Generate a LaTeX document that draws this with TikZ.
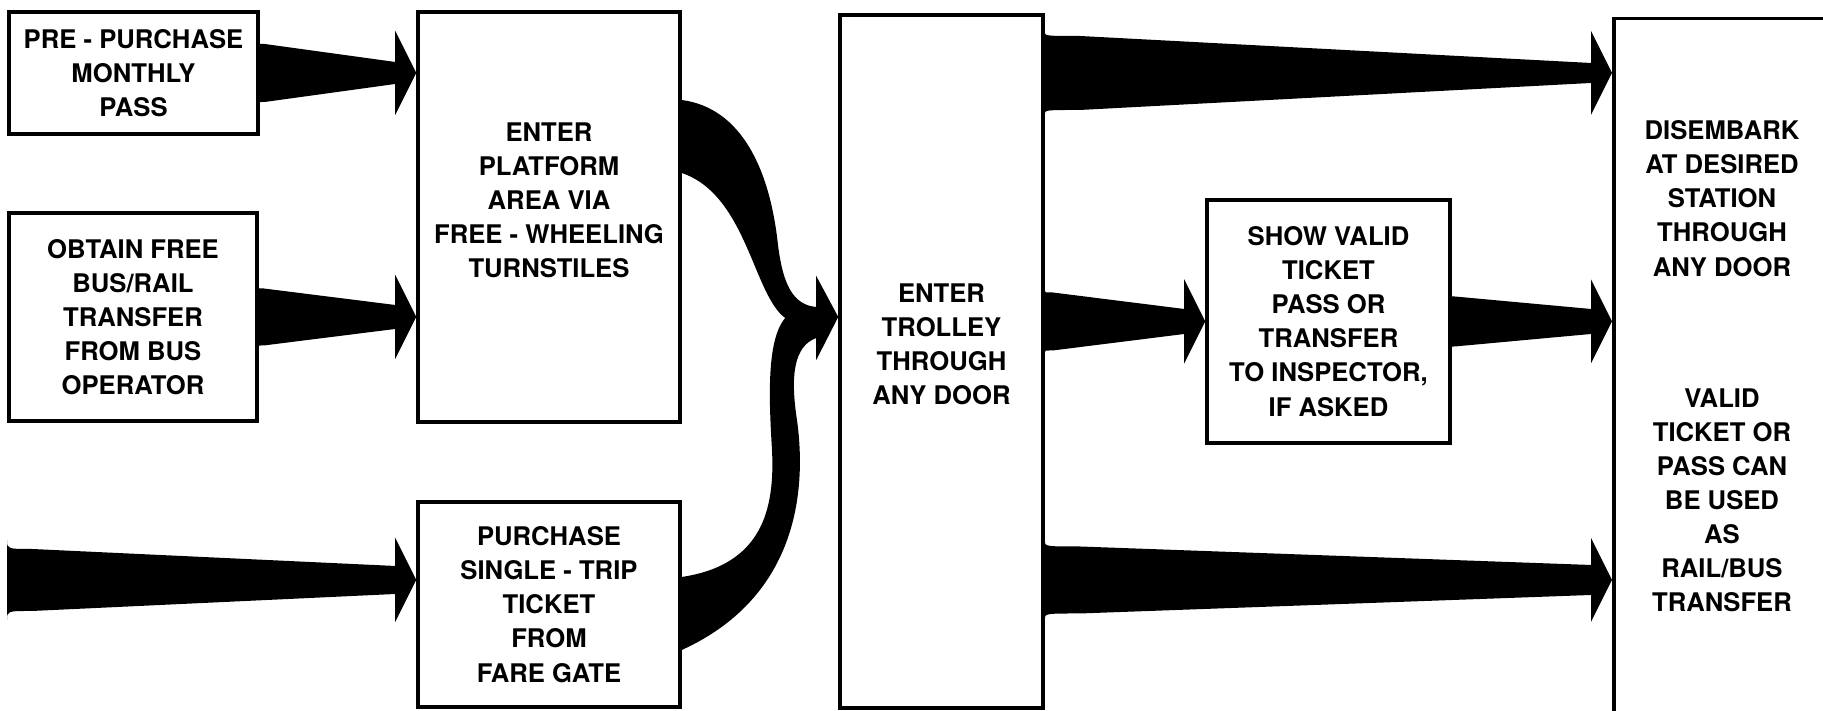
\documentclass[tikz,border=0pt]{standalone}
\usepackage{fontspec}
\setmainfont{TeX Gyre Heros}
\usetikzlibrary{calc}

\newcommand{\fatarrow}[6]{%
  \fill ($(#1)+(0,#3)$) .. controls ($(#1)+(0,#4)$) .. ($(#1)+(#5,#4)$)
    -- ($(#2)+(-0.21,#6)$) -- ($(#2)+(-0.21,0.42)$) -- (#2)
    -- ($(#2)+(-0.21,-0.42)$) -- ($(#2)+(-0.21,-#6)$)
    -- ($(#1)+(#5,-#4)$) .. controls ($(#1)+(0,-#4)$) .. ($(#1)+(0,-#3)$) -- cycle;}

\begin{document}
\begin{tikzpicture}
[box/.style={rectangle,draw,line width=1pt,align=center,font=\bfseries\fontsize{7.3}{9.7}\selectfont},
 words/.style={align=center,font=\bfseries\fontsize{7.3}{9.7}\selectfont}]

\path[use as bounding box,clip] (0,0) rectangle (18.23,7.11);

\node[box,minimum width=2.49cm,minimum height=1.22cm] (pass) at (1.335,6.38) {PRE - PURCHASE\\MONTHLY\\PASS};
\node[box,minimum width=2.48cm,minimum height=2.08cm] (transfer) at (1.33,3.94) {OBTAIN FREE\\BUS/RAIL\\TRANSFER\\FROM BUS\\OPERATOR};
\node[box,minimum width=2.62cm,minimum height=4.10cm] (platform) at (5.49,4.94) {ENTER\\PLATFORM\\AREA VIA\\FREE - WHEELING\\TURNSTILES\\ \mbox{}};
\node[box,minimum width=2.62cm,minimum height=2.05cm] (ticket) at (5.49,1.065) {PURCHASE\\SINGLE - TRIP\\TICKET\\FROM\\FARE GATE};
\node[box,minimum width=2.03cm,minimum height=6.93cm] (trolley) at (9.415,3.495) {ENTER\\TROLLEY\\THROUGH\\ANY DOOR\\ \mbox{}};
\node[box,minimum width=2.43cm,minimum height=2.43cm] (inspector) at (13.285,3.895) {SHOW VALID\\TICKET\\PASS OR\\TRANSFER\\TO INSPECTOR,\\IF ASKED};
\node[box,anchor=north west,minimum width=2.2cm,minimum height=7.4cm] (exit) at (16.12,6.94) {};

\node[words] (disembark) at (17.22,5.125) {DISEMBARK\\AT DESIRED\\STATION\\THROUGH\\ANY DOOR};
\node[words] (reuse) at (17.22,2.105) {VALID\\TICKET OR\\PASS CAN\\BE USED\\AS\\RAIL/BUS\\TRANSFER};

\coordinate (entry) at (0.07,1.31);
\coordinate (merge) at (trolley.west |- transfer.east);


\fatarrow{pass.east}{platform.west |- pass.east}{0.295}{0.29}{0.05}{0.11}
\fatarrow{transfer.east}{platform.west |- transfer.east}{0.29}{0.285}{0.05}{0.12}
\fatarrow{entry}{ticket.west |- entry}{0.40}{0.31}{0.25}{0.14}

\fatarrow{trolley.east |- pass}{exit.west |- pass}{0.415}{0.37}{0.35}{0.10}
\fatarrow{trolley.east |- inspector}{inspector.west}{0.31}{0.29}{0.08}{0.125}
\fatarrow{inspector.east}{exit.west |- inspector}{0.255}{0.25}{0.03}{0.125}
\fatarrow{trolley.east |- entry}{exit.west |- entry}{0.395}{0.335}{0.35}{0.15}


\fill ($(platform.east)+(0,1.17)$)
  .. controls +(0.60,-0.08) and +(-0.08,0.75) .. (7.78,4.66)
  .. controls +(0.05,-0.40) and +(-0.23,0.02) .. ($(merge)+(-0.22,0.10)$)
  -- ++(0,0.31) -- (merge) -- ++(-0.22,-0.43) -- ++(0,0.22)
  .. controls +(-0.22,-0.08) and +(-0.07,0.45) .. (7.97,2.91)
  .. controls +(0.11,-0.80) and +(1.10,0.50) .. ($(ticket.east)+(0,-0.455)$)
  -- ++(0,0.73)
  .. controls +(0.80,0.12) and +(0.03,-0.60) .. (7.72,2.61)
  .. controls +(-0.03,0.50) and +(-0.19,-0.22) .. ($(merge)+(-0.53,-0.01)$)
  .. controls +(-0.32,0.23) and +(0.65,-0.22) .. ($(platform.east)+(0,0.44)$)
  -- cycle;

\end{tikzpicture}
\end{document}
